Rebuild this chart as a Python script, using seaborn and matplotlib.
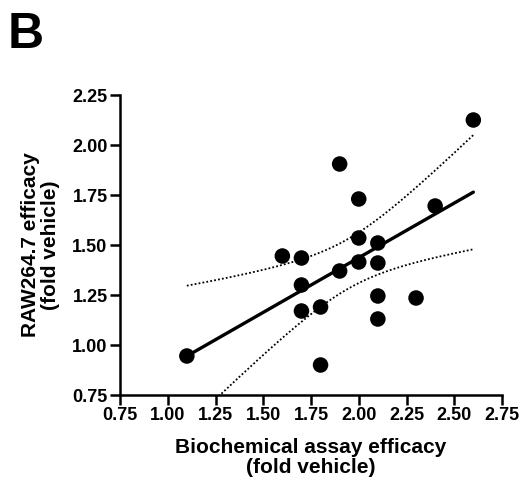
import numpy as np
import pandas as pd
import matplotlib
matplotlib.use("Agg")
import matplotlib.pyplot as plt
import seaborn as sns

biochem = [1.10, 1.60, 1.70, 1.70, 1.70, 1.80, 1.80, 1.90, 1.90, 2.00, 2.00, 2.00,
           2.10, 2.10, 2.10, 2.10, 2.30, 2.40, 2.60]
raw264 = [0.945, 1.445, 1.435, 1.30, 1.17, 1.19, 0.90, 1.905, 1.37, 1.73, 1.535, 1.415,
          1.51, 1.41, 1.245, 1.13, 1.235, 1.695, 2.125]
xticks = [0.75, 1.00, 1.25, 1.50, 1.75, 2.00, 2.25, 2.50, 2.75]
yticks = [0.75, 1.00, 1.25, 1.50, 1.75, 2.00, 2.25]

df = pd.DataFrame({"x": biochem, "y": raw264})

sns.set_style("ticks")
plt.rcParams['font.family'] = ['Liberation Sans', 'DejaVu Sans']
plt.rcParams['font.weight'] = 'bold'
plt.rcParams['text.color'] = 'black'
plt.rcParams['axes.labelcolor'] = 'black'
plt.rcParams['xtick.color'] = 'black'
plt.rcParams['ytick.color'] = 'black'

fig = plt.figure(figsize=(5.23, 4.87), dpi=100)
ax = fig.add_axes([120/523, 1-395/487, (502-120)/523, (395-95)/487])

sns.regplot(data=df, x="x", y="y", ci=None, ax=ax, truncate=True,
            scatter_kws=dict(s=125, color="black", alpha=1, edgecolor="none", zorder=3, clip_on=False),
            line_kws=dict(color="black", lw=2.4))

# 95% confidence band of the fit as dotted lines
x = np.asarray(biochem); y = np.asarray(raw264)
n = len(x)
b, a = np.polyfit(x, y, 1)
resid = y - (a + b*x)
s = np.sqrt(np.sum(resid**2)/(n-2))
t = 2.1098  # t(0.975, df=17)
xs = np.linspace(x.min(), x.max(), 200)
se = s*np.sqrt(1/n + (xs-x.mean())**2/np.sum((x-x.mean())**2))
yfit = a + b*xs
ax.plot(xs, yfit+t*se, color="black", lw=1.3, ls=(0, (1, 1.2)))
ax.plot(xs, yfit-t*se, color="black", lw=1.3, ls=(0, (1, 1.2)))

ax.set_xlim(0.75, 2.75)
ax.set_ylim(0.75, 2.25)
ax.set_xticks(xticks)
ax.set_yticks(yticks)
ax.set_xticklabels([f"{v:.2f}" for v in xticks], fontsize=13, fontweight='bold', color='black')
ax.set_yticklabels([f"{v:.2f}" for v in yticks], fontsize=13, fontweight='bold', color='black')
sns.despine(ax=ax)
for sp in ["left", "bottom"]:
    ax.spines[sp].set_linewidth(1.8)
    ax.spines[sp].set_color("black")
ax.tick_params(axis="both", width=1.8, length=7, color="black", pad=2)
ax.set_xlabel("Biochemical assay efficacy\n(fold vehicle)", fontsize=15, fontweight='bold',
              labelpad=10, linespacing=1.05, color='black')
ax.set_ylabel("RAW264.7 efficacy\n(fold vehicle)", fontsize=15, fontweight='bold',
              labelpad=9, linespacing=1.05, color='black')

fig.text(8/523, 1-12/487, "B", fontsize=36, fontweight='bold', va="top", ha="left", color='black')

fig.savefig("out.png", dpi=100)
